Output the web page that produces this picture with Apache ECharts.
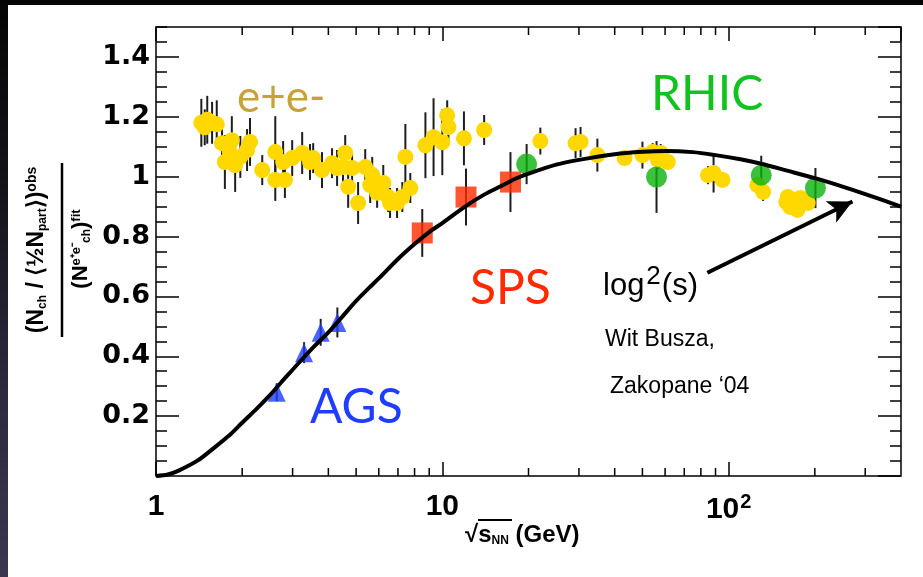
<!DOCTYPE html>
<html><head><meta charset="utf-8">
<script src="https://cdn.jsdelivr.net/npm/echarts@6/dist/echarts.min.js"></script>
<style>
html,body{margin:0;padding:0;width:923px;height:577px;overflow:hidden;background:linear-gradient(180deg,#050505 0%,#16151d 35%,#2e2b40 70%,#3a3650 100%);}
#paper{position:absolute;left:8px;top:5px;width:915px;height:572px;background:#fff;}
#chart{position:absolute;left:0;top:0;width:923px;height:577px;}
</style></head>
<body><div id="paper"></div><div id="chart"></div>
<script>
// ---- data ----
const xMin = 1, xMax = 400, yMin = 0, yMax = 1.5;
const xMajorTicks = [1, 10, 100];
const xMinorTicks = [2,3,4,5,6,7,8,9,20,30,40,50,60,70,80,90,200,300];
const xTickLabels = ['1', '10', '10{sup|2}'];

const eeX   = [1.44,1.51,1.57,1.63,1.48,1.70,1.84,1.81,1.74,1.89,1.97,2.13,2.08,2.35,2.61,2.61,2.82,2.78,2.99,3.24,3.45,3.54,3.8,4.12,4.29,4.58,4.5,4.84,4.69,5.08,5.38,5.69,5.6,5.92,6.22,6.47,6.57,6.95,7.25,7.73,7.43,8.73,9.32,10.0,10.4,10.5,11.9,14.0,22.0,29.2,30.4,34.8,43.3,50.0,54.3,57.9,61.3,56.6,84.7,88.6,95.2,126,132,159,161,164,174,178,189];
const eeY   = [1.18,1.19,1.18,1.175,1.165,1.112,1.122,1.082,1.049,1.039,1.066,1.116,1.089,1.022,1.082,0.989,0.989,1.049,1.062,1.079,1.049,1.062,1.022,1.045,1.029,1.079,1.032,1.029,0.966,0.912,1.032,1.006,0.972,0.946,0.979,0.932,0.912,0.912,0.932,0.962,1.066,1.105,1.132,1.115,1.205,1.166,1.128,1.156,1.119,1.112,1.116,1.072,1.062,1.072,1.082,1.079,1.049,1.056,1.005,1.012,0.989,0.972,0.949,0.915,0.932,0.899,0.889,0.929,0.912];
const eeErr = [0.08,0.08,0.07,0.08,0.06,0.07,0.08,0.06,0.09,0.09,0.07,0.08,0.07,0.05,0.12,0.07,0.06,0.07,0.06,0.07,0.06,0.05,0.06,0.05,0.06,0.06,0.05,0.05,0.07,0.07,0.06,0.06,0.06,0.05,0.06,0.05,0.05,0.05,0.05,0.05,0.11,0.11,0.13,0.11,0.05,0.06,0.09,0.05,0.045,0.05,0.05,0.055,0.02,0.045,0.03,0.03,0.02,0.03,0.03,0.065,0.02,0.02,0.03,0.02,0.02,0.02,0.02,0.02,0.02];

const agsX = [2.64, 3.29, 3.76, 4.30];
const agsY = [0.28, 0.412, 0.48, 0.513];
const agsErr = [0.03, 0.035, 0.045, 0.05];

const spsX = [8.51, 12.1, 17.3];
const spsY = [0.812, 0.932, 0.982];
const spsErr = [0.08, 0.095, 0.1];

const rhicX = [19.7, 56, 130, 201];
const rhicY = [1.042, 0.999, 1.005, 0.962];
const rhicErr = [0.067, 0.12, 0.065, 0.067];

const fitX = [1.0,1.1,1.2,1.4,1.6,1.8,2.0,2.25,2.5,2.75,3.0,3.5,4.0,4.5,5.0,5.5,6.0,7.0,8.0,9.0,10,12,14,16,18,20,25,30,40,50,60,75,90,110,130,160,200,250,300,400];
const fitY = [0.0,0.005,0.018,0.052,0.095,0.135,0.178,0.225,0.27,0.315,0.355,0.425,0.48,0.535,0.585,0.625,0.66,0.725,0.775,0.815,0.845,0.9,0.94,0.968,0.993,1.01,1.04,1.056,1.075,1.083,1.086,1.082,1.072,1.058,1.043,1.02,0.995,0.967,0.942,0.9];

const arrowFrom = [84.3, 0.679];
const arrowTo = [270.7, 0.917];

// ---- helpers ----
function pts(xs, ys) { return xs.map((x, i) => [x, ys[i]]); }
function errs(xs, ys, es) { return xs.map((x, i) => [x, ys[i] - es[i], ys[i] + es[i]]); }
function errSeries(data) {
  return {
    type: 'custom', data: data, z: 2, silent: true, encode: { x: 0, y: [1, 2] },
    renderItem: function (params, api) {
      const a = api.coord([api.value(0), api.value(1)]);
      const b = api.coord([api.value(0), api.value(2)]);
      return { type: 'line', shape: { x1: a[0], y1: a[1], x2: b[0], y2: b[1] },
               style: { stroke: '#1e1e1e', lineWidth: 2 } };
    }
  };
}

const chart = echarts.init(document.getElementById('chart'), null, { renderer: 'canvas' });
const yLabelFont = { fontFamily: 'DejaVu Sans', fontWeight: 'bold', fontSize: 27, color: '#000' };

function yAx(pos, interval, len, showLabel) {
  return {
    type: 'value', position: pos, min: yMin, max: yMax, interval: interval,
    axisLine: { show: false, onZero: false },
    axisTick: { show: true, inside: true, length: len, lineStyle: { color: '#000', width: 1.5 } },
    splitLine: { show: false },
    axisLabel: showLabel ? Object.assign({ show: true, margin: 6, showMinLabel: false, showMaxLabel: false }, yLabelFont) : { show: false }
  };
}
function xAx(pos, showLabel) {
  return {
    type: 'log', logBase: 10, position: pos, min: xMin, max: xMax,
    axisLine: { show: false, onZero: false },
    axisTick: { show: true, inside: true, length: 14, lineStyle: { color: '#000', width: 1.5 } },
    splitLine: { show: false },
    axisLabel: showLabel ? {
      show: true, margin: 16, showMaxLabel: false,
      fontFamily: 'Liberation Sans', fontWeight: 'bold', fontSize: 30, color: '#000',
      formatter: function (v) {
        for (let i = 0; i < xMajorTicks.length; i++) if (Math.abs(v - xMajorTicks[i]) < 1e-6 * v) return xTickLabels[i];
        return '';
      },
      rich: { sup: { fontFamily: 'Liberation Sans', fontWeight: 'bold', fontSize: 20, verticalAlign: 'top', padding: [0, 0, 16, 1] } }
    } : { show: false }
  };
}

const option = {
  animation: false,
  backgroundColor: 'transparent',
  grid: { left: 156, top: 27, right: 22, bottom: 101, show: true, borderColor: '#000', borderWidth: 1.5, backgroundColor: 'transparent' },
  xAxis: [xAx('bottom', true), xAx('top', false)],
  yAxis: [yAx('left', 0.2, 23, true), yAx('left', 0.05, 11, false), yAx('right', 0.2, 23, false), yAx('right', 0.05, 11, false)],
  series: [
    { // minor log ticks on bottom and top axes
      type: 'custom', silent: true, z: 1, data: xMinorTicks.map(v => [v, yMin]), encode: { x: 0, y: 1 },
      renderItem: function (params, api) {
        const v = api.value(0);
        const b = api.coord([v, yMin]);
        const t = api.coord([v, yMax]);
        return { type: 'group', children: [
          { type: 'line', shape: { x1: b[0], y1: b[1], x2: b[0], y2: b[1] - 8 }, style: { stroke: '#000', lineWidth: 1.5 } },
          { type: 'line', shape: { x1: t[0], y1: t[1], x2: t[0], y2: t[1] + 8 }, style: { stroke: '#000', lineWidth: 1.5 } }
        ] };
      }
    },
    errSeries(errs(eeX, eeY, eeErr)),
    errSeries(errs(agsX, agsY, agsErr)),
    errSeries(errs(spsX, spsY, spsErr)),
    errSeries(errs(rhicX, rhicY, rhicErr)),
    { name: 'e+e-', type: 'scatter', z: 3, data: pts(eeX, eeY), symbol: 'circle', symbolSize: 16, itemStyle: { color: '#ffd800', opacity: 1 } },
    { name: 'AGS', type: 'scatter', z: 3, data: pts(agsX, agsY), symbol: 'triangle', symbolSize: [18, 19], itemStyle: { color: '#1f3dff' } },
    { name: 'SPS', type: 'scatter', z: 3, data: pts(spsX, spsY), symbol: 'rect', symbolSize: 21, itemStyle: { color: '#ff2a00' } },
    { name: 'RHIC', type: 'scatter', z: 3, data: pts(rhicX, rhicY), symbol: 'circle', symbolSize: 21, itemStyle: { color: '#0ab10a' } },
    { name: 'fit', type: 'line', z: 5, data: pts(fitX, fitY), smooth: 0.3, showSymbol: false, symbol: 'none',
      lineStyle: { color: '#000', width: 4 },
      markLine: { silent: true, symbol: ['none', 'arrow'], symbolSize: [18, 24], label: { show: false },
        lineStyle: { color: '#000', width: 4, type: 'solid' },
        data: [[{ coord: arrowFrom }, { coord: arrowTo }]] } }
  ],
  graphic: [
    { type: 'text', x: 237, y: 98, style: { text: 'e+e-', fill: '#c9a13b', font: '44px Lato', align: 'left', verticalAlign: 'middle' } },
    { type: 'text', x: 651, y: 95, style: { text: 'RHIC', fill: '#12c21e', font: '48px Lato', align: 'left', verticalAlign: 'middle' } },
    { type: 'text', x: 470, y: 289, style: { text: 'SPS', fill: '#ff2a00', font: '48px Lato', align: 'left', verticalAlign: 'middle' } },
    { type: 'text', x: 310, y: 408, style: { text: 'AGS', fill: '#1f3dff', font: '48px Lato', align: 'left', verticalAlign: 'middle' } },
    { type: 'text', x: 603, y: 286, style: { text: 'log{sup|2}(s)', fill: '#000', font: '31px "Liberation Sans"', align: 'left', verticalAlign: 'middle',
      rich: { sup: { fontSize: 26, fontFamily: 'Liberation Sans', verticalAlign: 'top', padding: [0, 1, 18, 2] } } } },
    { type: 'text', x: 605, y: 340, style: { text: 'Wit Busza,', fill: '#000', font: '23px "Liberation Sans"', align: 'left', verticalAlign: 'middle' } },
    { type: 'text', x: 610, y: 387, style: { text: 'Zakopane \u201804', fill: '#000', font: '23px "Liberation Sans"', align: 'left', verticalAlign: 'middle' } },
    // x axis title
    { type: 'text', x: 465, y: 535, style: { text: '\u221A{s|s}{sub|NN} (GeV)', fill: '#000', font: 'bold 24px "Liberation Sans"', align: 'left', verticalAlign: 'middle',
      rich: { s: { fontSize: 24, fontWeight: 'bold', fontFamily: 'Liberation Sans' }, sub: { fontSize: 12, fontWeight: 'bold', fontFamily: 'Liberation Sans', verticalAlign: 'bottom', padding: [8, 0, 0, 0] } } } },
    { type: 'line', shape: { x1: 478, y1: 520, x2: 512, y2: 520 }, style: { stroke: '#000', lineWidth: 2 } },
    // y axis title (fraction, rotated)
    { type: 'text', x: 37, y: 250, rotation: Math.PI / 2, style: {
      text: '(N{sub|ch} / \u27E8{half|\u00BD}N{sub|part}\u27E9){sup|obs}', fill: '#000', font: 'bold 23px "Liberation Sans"', align: 'center', verticalAlign: 'middle',
      rich: { sub: { fontSize: 12, fontWeight: 'bold', fontFamily: 'Liberation Sans', verticalAlign: 'bottom', padding: [10, 0, 0, 0] },
              sup: { fontSize: 14, fontWeight: 'bold', fontFamily: 'Liberation Sans', verticalAlign: 'top', padding: [0, 0, 10, 0] },
              half: { fontSize: 23, fontWeight: 'bold', fontFamily: 'Liberation Sans' } } } },
    { type: 'line', shape: { x1: 62, y1: 163, x2: 62, y2: 337 }, style: { stroke: '#000', lineWidth: 2.5 } },
    { type: 'text', x: 81, y: 249, rotation: Math.PI / 2, style: {
      text: '(N{sup|e\u207Ae\u207B}{sub|ch}){sup|fit}', fill: '#000', font: 'bold 22px "Liberation Sans"', align: 'center', verticalAlign: 'middle',
      rich: { sub: { fontSize: 12, fontWeight: 'bold', fontFamily: 'Liberation Sans', verticalAlign: 'bottom', padding: [10, 0, 0, 0] },
              sup: { fontSize: 13, fontWeight: 'bold', fontFamily: 'Liberation Sans', verticalAlign: 'top', padding: [0, 0, 10, 0] } } } }
  ]
};
chart.setOption(option);
</script>
</body></html>
